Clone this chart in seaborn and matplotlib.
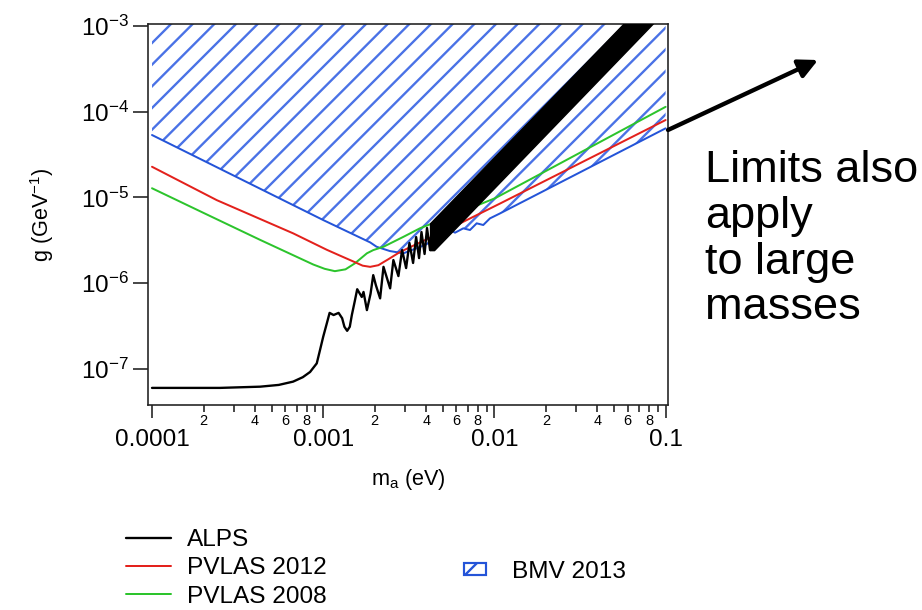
import numpy as np
import matplotlib
matplotlib.use("Agg")
import matplotlib.pyplot as plt
import matplotlib.ticker as mticker
import matplotlib.patches as mpatches
import seaborn as sns

# =====================================
# Data
# mass m_a in eV, coupling g in GeV^-1
# =====================================

alps_m = [1.0e-4, 2.49e-4, 4.28e-4, 5.5e-4, 6.67e-4, 7.6e-4, 8.38e-4, 9.17e-4,
          9.58e-4, 1.0e-3, 1.05e-3, 1.09e-3, 1.15e-3, 1.23e-3, 1.29e-3, 1.33e-3,
          1.38e-3, 1.43e-3, 1.47e-3, 1.53e-3, 1.58e-3, 1.68e-3, 1.72e-3, 1.80e-3,
          1.89e-3, 1.96e-3, 2.03e-3, 2.15e-3, 2.25e-3, 2.46e-3, 2.57e-3, 2.75e-3,
          2.89e-3, 3.05e-3, 3.19e-3, 3.35e-3, 3.49e-3, 3.63e-3, 3.75e-3, 3.91e-3,
          4.04e-3, 4.21e-3, 4.32e-3]
alps_g = [6.0e-8, 6.0e-8, 6.2e-8, 6.5e-8, 7.1e-8, 8.0e-8, 9.2e-8, 1.16e-7,
          1.66e-7, 2.37e-7, 3.4e-7, 4.5e-7, 4.25e-7, 4.5e-7, 3.9e-7, 3.1e-7,
          2.78e-7, 3.1e-7, 4.25e-7, 6.2e-7, 8.5e-7, 6.9e-7, 7.9e-7, 4.85e-7,
          7.5e-7, 1.24e-6, 9.5e-7, 6.65e-7, 1.55e-6, 8.7e-7, 1.86e-6, 1.21e-6,
          2.43e-6, 1.50e-6, 2.94e-6, 1.72e-6, 3.45e-6, 1.96e-6, 3.95e-6, 2.19e-6,
          4.40e-6, 2.43e-6, 4.9e-6]

# unresolved fast oscillations of ALPS, drawn as a solid band
alps_band_g = [2.43e-6, 5.0e-6, 1.05e-3, 2.93e-3]
alps_band_m_low = [4.21e-3, 4.21e-3, 0.0564, 0.0927]
alps_band_m_high = [4.44e-3, 6.30e-3, 0.0834, 0.137]

pvlas12_m = [1.0e-4, 2.39e-4, 6.68e-4, 1.05e-3, 1.25e-3, 1.50e-3, 1.70e-3,
             1.88e-3, 2.10e-3, 2.40e-3, 2.80e-3, 3.50e-3, 5.75e-3, 0.0108, 0.1]
pvlas12_g = [2.28e-5, 9.3e-6, 3.81e-6, 2.45e-6, 2.10e-6, 1.79e-6, 1.60e-6,
             1.55e-6, 1.62e-6, 1.90e-6, 2.30e-6, 2.85e-6, 4.55e-6, 8.5e-6, 8.0e-5]

pvlas08_m = [1.0e-4, 2.0e-4, 4.28e-4, 8.75e-4, 1.02e-3, 1.17e-3, 1.35e-3,
             1.53e-3, 1.80e-3, 1.96e-3, 2.25e-3, 2.94e-3, 3.67e-3, 5.75e-3,
             0.0101, 0.1]
pvlas08_g = [1.28e-5, 6.6e-6, 3.2e-6, 1.65e-6, 1.47e-6, 1.38e-6, 1.45e-6,
             1.70e-6, 2.23e-6, 2.43e-6, 2.66e-6, 3.47e-6, 4.36e-6, 6.23e-6,
             9.8e-6, 1.14e-4]

bmv_m = [1.0e-4, 1.0e-3, 1.88e-3, 2.05e-3, 2.45e-3, 2.94e-3, 3.94e-3, 5.14e-3,
         5.50e-3, 5.89e-3, 6.58e-3, 7.20e-3, 7.88e-3, 8.61e-3, 9.42e-3, 0.0108, 0.1]
bmv_g = [5.35e-5, 5.45e-6, 2.99e-6, 2.66e-6, 2.37e-6, 2.23e-6, 2.79e-6, 3.81e-6,
         4.17e-6, 3.88e-6, 4.36e-6, 4.17e-6, 4.99e-6, 4.77e-6, 5.70e-6, 6.52e-6, 6.40e-5]

x_limits = (9.475e-5, 0.1033)
y_limits = (3.79e-8, 1.047e-3)

note_text = "Limits also\napply\nto large\nmasses"

# =====================================
# Style
# =====================================

sns.set_style("white")
plt.rcParams["font.family"] = ["Liberation Sans", "DejaVu Sans"]
plt.rcParams["mathtext.fontset"] = "custom"
plt.rcParams["mathtext.rm"] = "Liberation Sans"
plt.rcParams["mathtext.it"] = "Liberation Sans:italic"
plt.rcParams["mathtext.bf"] = "Liberation Sans:bold"
plt.rcParams["axes.unicode_minus"] = False
plt.rcParams["hatch.linewidth"] = 1.3
plt.rcParams["text.color"] = "black"
plt.rcParams["axes.labelcolor"] = "black"
plt.rcParams["xtick.color"] = "black"
plt.rcParams["ytick.color"] = "black"

DPI = 130
red = "#e3211c"
green = "#2cc42c"
blue_line = "#2454d8"
blue_hatch = "#4a72e6"

fig = plt.figure(figsize=(922 / DPI, 610 / DPI), dpi=DPI)
ax = fig.add_axes([148 / 922, 205 / 610, 520 / 922, 380.7 / 610])

ax.set_xscale("log")
ax.set_yscale("log")
ax.set_xlim(*x_limits)
ax.set_ylim(*y_limits)

# =====================================
# BMV 2013 hatched exclusion region
# =====================================

ax.fill_between(bmv_m, bmv_g, ax.get_ylim()[1] * 10, facecolor="none",
                edgecolor=blue_hatch, hatch="//", linewidth=0, zorder=1)
sns.lineplot(x=bmv_m, y=bmv_g, ax=ax, color=blue_line, linewidth=1.1,
             sort=False, estimator=None, zorder=2)

# =====================================
# PVLAS curves
# =====================================

sns.lineplot(x=pvlas08_m, y=pvlas08_g, ax=ax, color=green, linewidth=1.1,
             sort=False, estimator=None, zorder=3, label="PVLAS 2008")
sns.lineplot(x=pvlas12_m, y=pvlas12_g, ax=ax, color=red, linewidth=1.1,
             sort=False, estimator=None, zorder=3, label="PVLAS 2012")

# =====================================
# ALPS
# =====================================

sns.lineplot(x=alps_m, y=alps_g, ax=ax, color="black", linewidth=1.3,
             sort=False, estimator=None, zorder=4, label="ALPS")
ax.fill_betweenx(alps_band_g, alps_band_m_low, alps_band_m_high,
                 color="black", linewidth=0.8, zorder=4)

ax.set_xlim(*x_limits)
ax.set_ylim(*y_limits)

# =====================================
# Axes and ticks
# =====================================

for side in ["left", "right", "top", "bottom"]:
    ax.spines[side].set_visible(True)
    ax.spines[side].set_color("#222222")
    ax.spines[side].set_linewidth(0.9)

ax.xaxis.set_major_locator(mticker.LogLocator(base=10, numticks=10))
ax.xaxis.set_minor_locator(mticker.LogLocator(base=10, subs=np.arange(2, 10), numticks=30))
ax.xaxis.set_major_formatter(mticker.FuncFormatter(lambda v, p: f"{v:g}"))


def minor_label(v, p):
    mant = int(round(v / 10 ** np.floor(np.log10(v) + 1e-9)))
    return str(mant) if mant in (2, 4, 6, 8) else ""


ax.xaxis.set_minor_formatter(mticker.FuncFormatter(minor_label))
ax.yaxis.set_major_locator(mticker.LogLocator(base=10, numticks=10))
ax.yaxis.set_minor_locator(mticker.NullLocator())

ax.tick_params(axis="y", which="major", direction="out", left=True, length=8.3,
               width=0.9, color="#222222", labelsize=13.5, pad=2)
ax.tick_params(axis="x", which="major", direction="out", bottom=True, length=7.2,
               width=0.9, color="#222222", labelsize=13.5, pad=6)
ax.tick_params(axis="x", which="minor", direction="out", bottom=True, length=3.9,
               width=0.9, color="#222222", labelsize=8, pad=1)

ax.set_xlabel("m$_\\mathregular{a}$ (eV)", fontsize=12, labelpad=9)
ax.set_ylabel("g (GeV$^\\mathregular{-1}$)", fontsize=12, labelpad=14)

# =====================================
# Legends below the plot
# =====================================

handles, labels = ax.get_legend_handles_labels()
order = [labels.index(n) for n in ["ALPS", "PVLAS 2012", "PVLAS 2008"]]
if ax.get_legend():
    ax.get_legend().remove()

fig.legend([handles[i] for i in order], [labels[i] for i in order],
           loc="upper left", bbox_to_anchor=(126 / 922, 1 - 529 / 610),
           frameon=False, fontsize=13.5, handlelength=1.85, handletextpad=0.65,
           labelspacing=0.26, borderpad=0, borderaxespad=0)

bmv_handle = mpatches.Patch(facecolor="none", edgecolor=blue_line,
                            hatch="/", linewidth=1.2)
fig.legend([bmv_handle], ["BMV 2013"], loc="center left",
           bbox_to_anchor=(464 / 922, 1 - 572 / 610), frameon=False,
           fontsize=13.5, handlelength=0.9, handleheight=0.35,
           handletextpad=1.05, borderpad=0, borderaxespad=0)

# =====================================
# Arrow and note on the right
# =====================================

ax.annotate("", xy=(818 / 922, 1 - 60 / 610), xycoords="figure fraction",
            xytext=(668 / 922, 1 - 130 / 610), textcoords="figure fraction",
            arrowprops=dict(arrowstyle="-|>", color="black", lw=2.4,
                            mutation_scale=22, shrinkA=0, shrinkB=0),
            annotation_clip=False)

fig.text(705 / 922, 1 - 150 / 610, note_text, fontsize=25, ha="left", va="top",
         linespacing=1.15)

fig.savefig("out.png", dpi=DPI)
